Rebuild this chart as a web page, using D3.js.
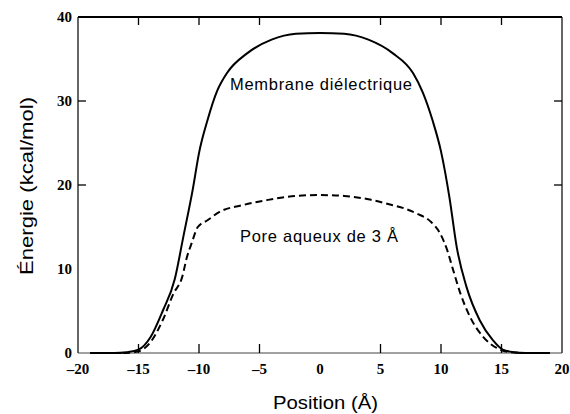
<!DOCTYPE html>
<html><head><meta charset="utf-8">
<script src="https://cdn.jsdelivr.net/npm/d3@7"></script>
<style>body{margin:0;background:#fff}svg{display:block}</style>
</head><body>
<svg id="c" width="570" height="414"></svg>
<script>
const membraneX = [-19,-18,-17,-16,-15,-14,-13,-12,-11.3,-10.5,-10,-9.3,-8.5,-7.7,-6,-4,-2,0,2,4,6,7.7,8.5,9.3,10,10.7,11.3,12.1,13.2,14.3,15.1,16,17,18,19];
const membraneY = [0,0,0,0.1,0.4,1.9,5,8.8,13.8,19.6,23.8,27.7,31.2,33.3,35.7,37.3,38,38.1,38,37.3,35.7,33.3,31,27.7,24,18.5,12.6,7.9,3.9,1.5,0.4,0.1,0,0,0];
const poreX = [-19,-17,-16,-15,-14,-13,-12.1,-11.4,-11,-10.6,-10.1,-9.3,-8.3,-6.4,-4.4,-2,0,2,4,6,7,8,9.1,9.9,10.5,11,11.6,12.4,13.5,14.6,15.7,17,19];
const poreY = [0,0,0,0.2,1.3,3.9,7.1,9,11.4,13.1,15,15.8,16.8,17.6,18.2,18.7,18.8,18.7,18.3,17.6,17.2,16.6,15.7,14.3,12.3,9.9,7.1,4.3,1.9,0.6,0.1,0,0];
const xTicks = [-20,-15,-10,-5,0,5,10,15,20];
const xTickLabels = ["\u201320","\u201315","\u201310","\u20135","0","5","10","15","20"];
const yTicks = [0,10,20,30,40];
const innerXTicks = [-15,-10,-5,5,10,15];
const innerYTicks = [20,30];

const svg = d3.select("#c");
const L=78, R=562, T=17, B=353;
const x = d3.scaleLinear().domain([-20,20]).range([L,R]);
const y = d3.scaleLinear().domain([0,40]).range([B,T]);

// frame
svg.append("line").attr("x1",L).attr("x2",R).attr("y1",T).attr("y2",T).attr("stroke","#000").attr("stroke-width",2);
svg.append("line").attr("x1",L).attr("x2",L).attr("y1",T).attr("y2",B).attr("stroke","#000").attr("stroke-width",1.2);
svg.append("line").attr("x1",R).attr("x2",R).attr("y1",T).attr("y2",B).attr("stroke","#000").attr("stroke-width",1.2);
svg.append("line").attr("x1",L).attr("x2",R).attr("y1",B).attr("y2",B).attr("stroke","#444").attr("stroke-width",1.2);

// inner ticks
const tk = svg.append("g").attr("stroke","#000").attr("stroke-width",1.3);
innerXTicks.forEach(v=>{
  tk.append("line").attr("x1",x(v)).attr("x2",x(v)).attr("y1",T).attr("y2",T+8);
  tk.append("line").attr("x1",x(v)).attr("x2",x(v)).attr("y1",B).attr("y2",B-9);
});
innerYTicks.forEach(v=>{
  tk.append("line").attr("x1",L).attr("x2",L+8).attr("y1",y(v)).attr("y2",y(v));
  tk.append("line").attr("x1",R).attr("x2",R-8).attr("y1",y(v)).attr("y2",y(v));
});

// tick labels
const tf = "'Liberation Serif','Times New Roman',serif";
svg.append("g").selectAll("text").data(xTicks).join("text")
  .attr("x",d=>x(d)).attr("y",374).attr("text-anchor","middle")
  .attr("font-family",tf).attr("font-weight","bold").attr("font-size",15)
  .text((d,i)=>xTickLabels[i]);
svg.append("g").selectAll("text").data(yTicks).join("text")
  .attr("x",72).attr("y",d=>y(d)+5).attr("text-anchor","end")
  .attr("font-family",tf).attr("font-weight","bold").attr("font-size",15)
  .text(d=>d);

// curves
const line = d3.line().x(d=>x(d[0])).y(d=>y(d[1])).curve(d3.curveMonotoneX);
svg.append("path").datum(membraneX.map((v,i)=>[v,membraneY[i]]))
  .attr("d",line).attr("fill","none").attr("stroke","#000").attr("stroke-width",2);
svg.append("path").datum(poreX.map((v,i)=>[v,poreY[i]]))
  .attr("d",line).attr("fill","none").attr("stroke","#000").attr("stroke-width",2)
  .attr("stroke-dasharray","7,4");

// annotations
const sf = "Arial,'Liberation Sans',sans-serif";
svg.append("text").attr("x",230).attr("y",90).attr("font-family",sf).attr("font-size",16.5)
  .attr("textLength",182).attr("lengthAdjust","spacing").text("Membrane diélectrique");
svg.append("text").attr("x",240).attr("y",242).attr("font-family",sf).attr("font-size",16.5)
  .attr("textLength",158).attr("lengthAdjust","spacing").text("Pore aqueux de 3 Å");

// axis titles
svg.append("text").attr("x",273).attr("y",409)
  .attr("font-family",sf).attr("font-size",18.5)
  .attr("textLength",105).attr("lengthAdjust","spacingAndGlyphs").text("Position (Å)");
svg.append("text").attr("transform","translate(33,275) rotate(-90)")
  .attr("font-family",sf).attr("font-size",18.5)
  .attr("textLength",178).attr("lengthAdjust","spacingAndGlyphs").text("Énergie (kcal/mol)");
</script>
</body></html>
